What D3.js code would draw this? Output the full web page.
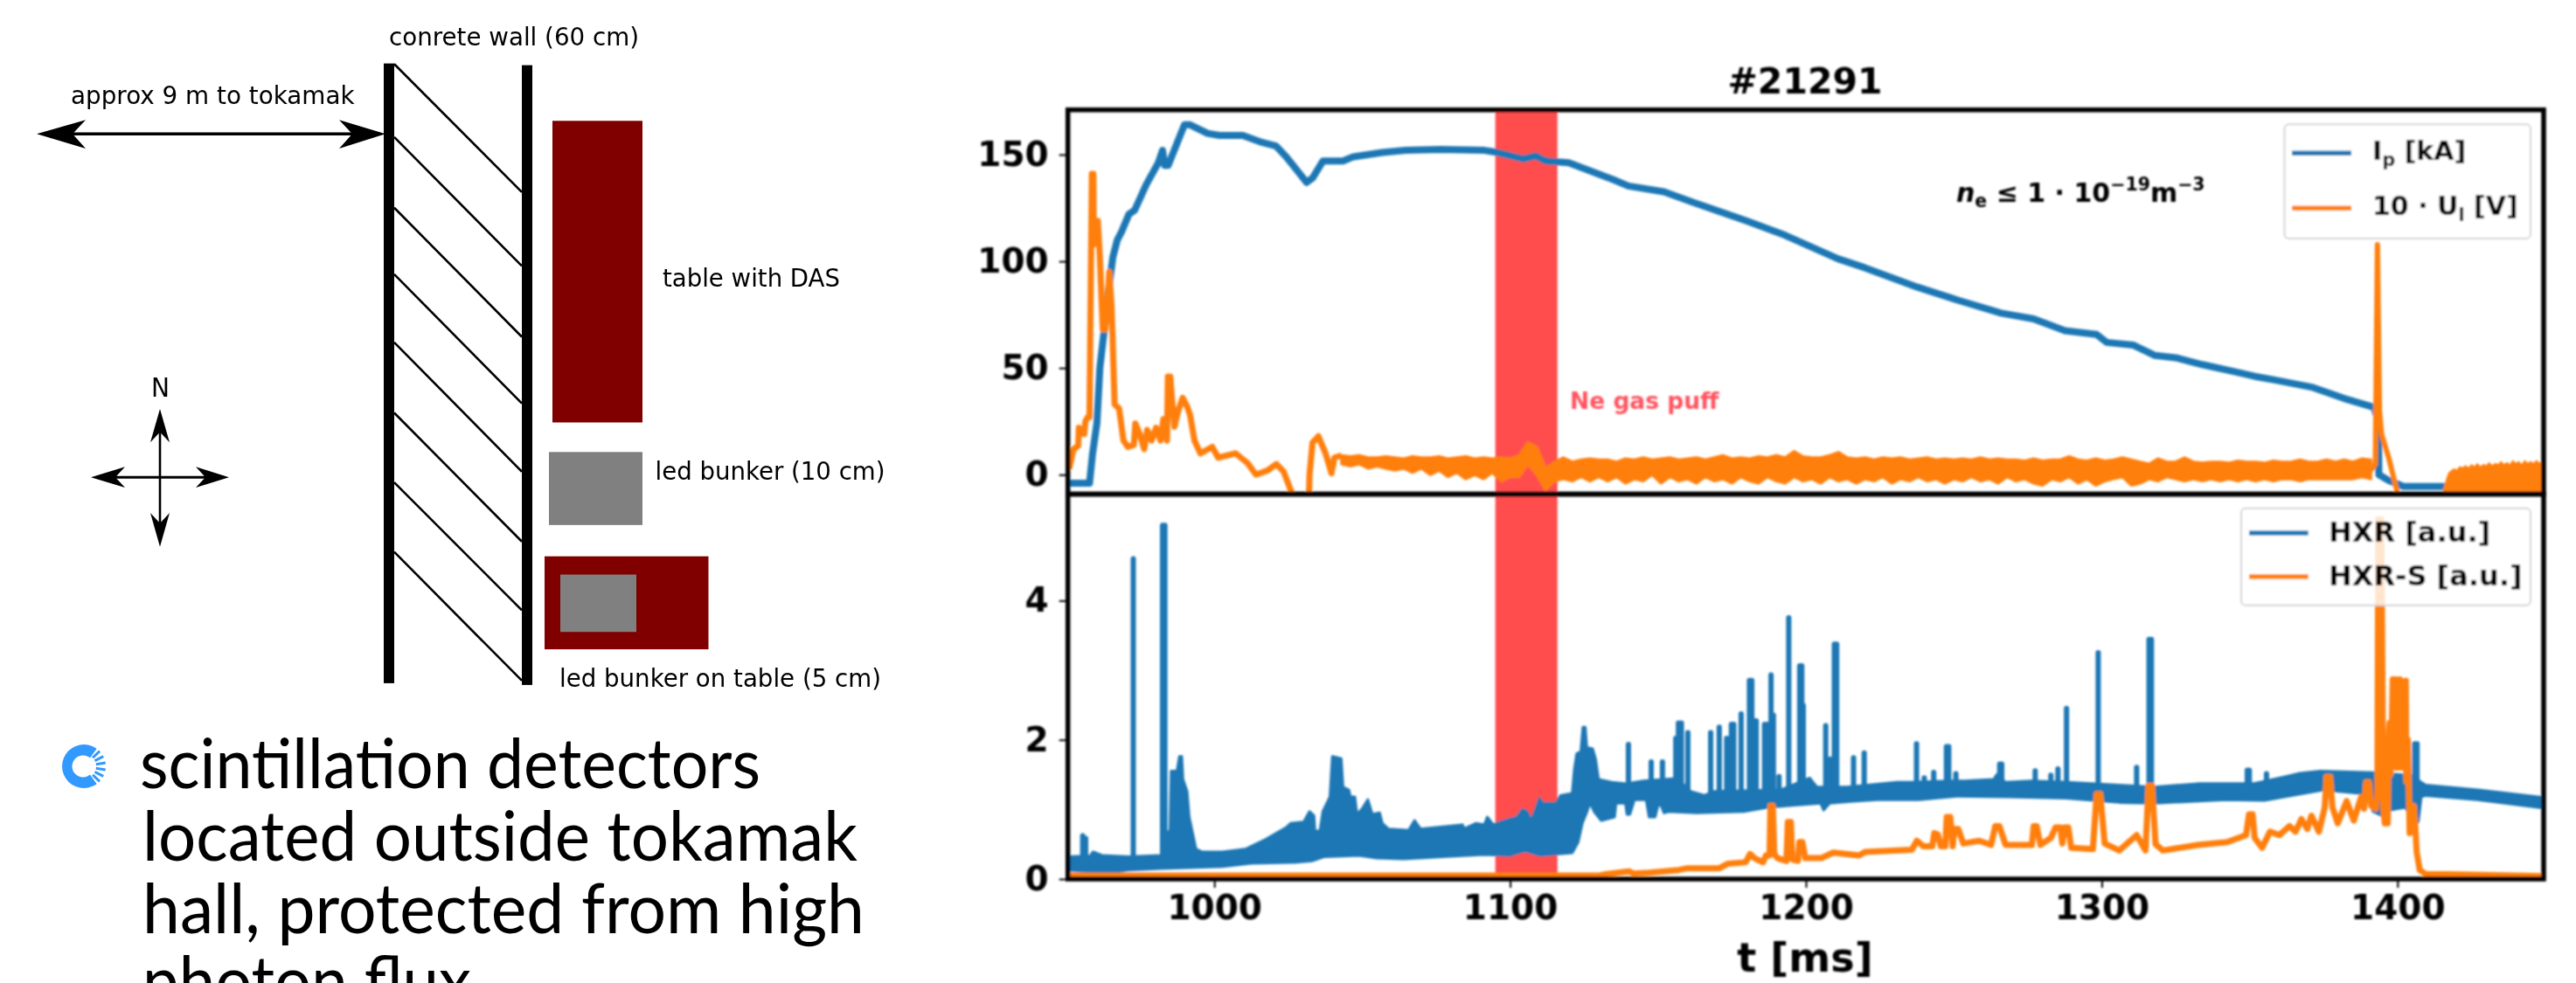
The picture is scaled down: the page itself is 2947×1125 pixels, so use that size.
<!DOCTYPE html>
<html><head><meta charset="utf-8">
<script src="https://cdn.jsdelivr.net/npm/d3@7/dist/d3.min.js"></script>
<style>html,body{margin:0;padding:0;background:#fff;overflow:hidden}svg{display:block}</style>
</head><body><svg id="c" width="2947" height="1125"></svg>
<script>
// ---------- chart data ----------
const chartTitle = "#21291";
const xTicks = [1000,1100,1200,1300,1400];
const topTicks = [0,50,100,150];
const bottomTicks = [0,2,4];
const puffSpan = [1095,1116];

const ipT = [950.9,957.8,958.8,960.3,961.3,962.8,964.2,965.7,967.2,968.7,971.1,973.1,977,981,982.5,983.2,984.4,989.9,991.8,997.7,1001.7,1009.6,1015.5,1020.9,1024.3,1031.2,1033.2,1036.7,1043.5,1047,1056.8,1064.7,1076.6,1091.3,1095,1104.5,1108.7,1112,1119.8,1135,1140,1152,1162,1180.5,1193,1210.8,1219.7,1237.5,1251.8,1266,1277,1287.6,1298.3,1301.7,1310.8,1318,1325,1334,1344.6,1351.7,1358.9,1371.4,1382,1392,1393.5,1393.7,1397,1402,1415,1450];
const ipV = [-4,-4,9.5,24,50,68,86,102,110,114,122,124,136,146,152,145,145,164,164,160,159,159,156,154,149,137,139,147,147,149,151,152,152.5,152,151.2,148,149.4,147,146.2,138.2,135.3,132.6,127.6,118.7,112.2,101.2,97.1,88,81.6,75.7,73,67.5,65.7,62,60.7,55.9,54.8,51.6,48.4,46.1,44.3,40.9,35.7,31.6,25,0,-2.7,-5.5,-5.5,-5.5];

const ulT = [950.9,952.4,954,954.2,956,956.4,957.2,957.8,958.6,959.1,959.3,959.8,960.6,961.3,962.3,963.1,963.8,964.5,965.3,966.3,967.8,969.3,970.8,972.8,973.3,974.8,976.3,977.3,978.8,980.3,981.8,982.8,984,984.3,985.1,985.8,986.5,987.8,989.3,990.8,991.8,993.3,995.3,999.3,1001.3,1007.2,1011.2,1014.1,1018,1021,1023.4,1025.9,1027,1032,1032.2,1033.2,1035.2,1036.7,1037.6,1039.6,1040.6,1043];
const ulV = [2.7,12,13.6,22,19,25,27,27,141,141,108,119,119,102,68,68,78,95,78,33,31,16,13,14,24,19,12,21,16,22,16,26,16,46,46,34,22.5,30,36,32,28,16,10,13,8,10,5.5,0,2,5,1.5,-7.5,-10,-10,0,15,18,13,10,0.7,8,9];
const ulBandHi = [9,8.5,9,8,8,8.5,8,7.5,8.5,8, 8,8.5,7.5,8,8.5,7.5,8,7.5,8,7.5, 9,15,13,3,6,8,6,7,7.5,7, 7,6,7.5,7,8,7,7.5,8,7,7.5,8,7,8,9,7.5,8,7.5,8.5,8,9, 8,11,8.5,8,8,9,10.5,8,7.5,8,7,8,7.5,8,7,7.5,8,7,7.5,7, 7.5,7,8,7,7.5,7,7,6.5,7.5,6.5,7,7,8.5,7,6.5,7.5,6.5,7,8,7, 6,5,7.5,6,6,8,6,5.5,6,6,5.5,6.5,6,6,5.5,6.5,6,6,7,6, 6,7,6,7,6,7.5,7];
const ulBandLo = [5,4,5,3,4,3,2,3,1,3, 0,2,-1,1,-2,0,-2,1,-3,-1, -1,5,0,-7,-3,-2,-3,-1,-3,-1, -3,-1,-4,-2,-3,0,-4,-1,-3,-2,-4,-1,-3,-2,-4,-1,-3,-4,-1,-3, -4,-1,-3,-2,-4,-1,-3,-2,-4,-2,-3,-1,-4,-2,-3,-1,-3,-2,-4,-2, -3,-1,-3,-2,-4,-1,-3,-2,-4,-5,-2,-3,-1,-4,-2,-5,-3,-2,-1,-5, -4,-2,-3,-1,-2,-3,-2,-3,-2,-3,-2,-3,-2,-3,-2,-3,-2,-2,-3,-2, -2,-2,-2,-2,-2,-1,-2];
const ulEndT = [1391,1392.5,1393.2,1393.9,1394.6,1397,1400.6];
const ulEndV = [2,5,107.8,30,19,8,-12];
const ulTailT = [1414.8,1415.6,1416.4,1417.2,1418,1419,1420,1421,1422,1423,1424,1425,1426,1427,1428,1429,1430,1431,1432,1433,1434,1435,1436,1437,1438,1439,1440,1441,1442,1443,1444,1445,1446,1447,1448,1449,1450];
const ulTailHi = [-10,-6,-2,1,2,3,2.5,4,3.5,4.5,3.5,5,4,5.5,4,5,4.5,6,4.5,5.5,5,6.5,5,6,5,7,5.5,6.5,5,7,5.5,6.5,5.5,7,5.5,7,6];

const hxrHiT = [950,958,959,962,971,982,984.4,985,985.4,987.4,988.2,989,989.4,990.8,991.5,992.8,993.8,995.8,1002.7,1010.5,1017.4,1024.3,1025.8,1030.2,1032.2,1033.7,1034,1035.7,1036.7,1039.1,1039.9,1042.9,1043.5,1045.5,1046,1047.5,1048.2,1050,1051.9,1053.4,1055.9,1056.8,1058.8,1065.7,1067.7,1069.7,1083.9,1084.4,1088.4,1091.3,1092.3,1094.3,1098.2,1102.3,1104.2,1105.7,1107.2,1108.7,1109.9,1111.1,1115.6,1117,1121,1121.7,1122.5,1123.9,1124.6,1125.4,1125.9,1127.9,1128.9,1129.9,1134.3,1139.2,1145.1,1155,1158.9,1160.9,1165.8,1168.8,1191.4,1201.3,1203.7,1214,1230.8,1235.8,1248.8,1253.7,1263.5,1264.5,1267.5,1276.4,1288.2,1317.7,1332.5,1347.3,1351.2,1362,1367,1373.9,1391.6,1397.6,1404.5,1408,1409.5,1427.2,1449.4,1450];
const hxrHi = [0.32,0.33,0.39,0.34,0.32,0.34,0.68,0.68,1.55,1.55,1.76,1.76,1.43,1.26,0.89,0.63,0.43,0.39,0.39,0.43,0.57,0.74,0.80,0.82,0.97,0.91,0.69,0.69,0.97,1.18,1.76,1.73,1.32,1.28,1.18,1.18,0.93,1.01,1.14,0.93,0.95,0.80,0.72,0.70,0.84,0.72,0.78,0.72,0.80,0.78,0.89,0.78,0.84,0.89,1.0,0.97,0.84,1.01,1.16,1.09,1.09,1.2,1.23,1.57,1.8,1.83,2.18,2.18,1.89,1.87,1.72,1.43,1.39,1.37,1.41,1.44,1.35,1.26,1.2,1.26,1.28,1.45,1.32,1.32,1.39,1.39,1.41,1.41,1.43,1.5,1.39,1.41,1.39,1.32,1.37,1.37,1.37,1.47,1.52,1.55,1.53,1.51,1.49,1.39,1.35,1.28,1.17,1.17];
const hxrLoT = [950,957.9,958.3,959.5,960,963,966,971,982,1002.7,1012.5,1027,1033,1037,1049,1055,1064,1077,1091,1100,1105,1110,1121,1123,1124.4,1126,1127,1128.4,1130.8,1135.3,1135.8,1139,1139.5,1140.5,1142,1146,1147,1149,1150,1151,1152,1153.5,1163,1179,1187,1196,1205,1206,1208,1215,1224,1238,1251,1268.5,1288,1306,1317.7,1342,1355,1367,1374.9,1389.7,1391.7,1394.7,1397.6,1402.5,1406.5,1407,1408,1409.5,1427,1449.4,1450];
const hxrLo = [0.13,0.10,0.06,0.06,0.10,0.10,0.09,0.13,0.15,0.18,0.225,0.24,0.26,0.32,0.34,0.30,0.29,0.32,0.35,0.34,0.405,0.34,0.375,0.53,0.80,0.97,1.10,0.97,0.84,0.89,1.09,1.09,0.93,0.93,1.14,1.14,0.89,0.89,1.06,1.06,0.95,0.97,0.95,0.97,1.03,1.06,1.09,0.99,1.09,1.115,1.14,1.14,1.19,1.18,1.16,1.10,1.09,1.14,1.13,1.22,1.28,1.22,0.97,0.91,0.99,1.03,0.82,0.82,1.18,1.2,1.14,1.02,1.02];
const hxrSpikeT = [955.5,956.5,972.6,982.5,983.3,1140,1147.7,1151.5,1156,1156.9,1157.9,1160.1,1167.8,1170.7,1173.2,1174.8,1175.6,1178.1,1180.9,1181.7,1182.5,1183.2,1186,1187,1188.2,1189,1190.9,1194.2,1197.9,1198.6,1199.1,1206.7,1208.2,1209.6,1210.4,1216.1,1219.7,1237.4,1240,1243.2,1247.5,1248.3,1250.7,1265.5,1266.2,1277.5,1282.8,1285.2,1288.1,1298.8,1311.8,1316,1316.8,1349.2,1349.9,1355.7,1405.8,1406.6];
const hxrSpikeV = [0.66,0.62,4.64,5.12,5.12,1.97,1.72,1.72,2.06,2.28,2.28,2.14,2.14,2.22,2.06,2.26,2.26,2.41,2.89,2.89,2.31,2.31,2.26,2.26,2.97,2.39,1.51,3.79,3.10,3.10,2.53,2.24,1.76,3.41,3.41,1.78,1.85,1.98,1.49,1.57,1.94,1.94,1.55,1.69,1.69,1.59,1.53,1.62,2.49,3.29,1.64,3.48,3.48,1.6,1.6,1.55,1.98,1.98];

const hxrsT = [950,1120,1130.3,1132.3,1140.2,1141.7,1147,1157,1160,1170.7,1173.7,1179.6,1181.1,1182.6,1185.5,1186.5,1187.7,1188,1188.8,1189.3,1190.4,1193.4,1193.9,1194.9,1195.4,1197.3,1197.8,1198.8,1199.8,1205.2,1209.2,1218,1220,1235.8,1237.5,1239.7,1242.7,1243.4,1244.6,1245.6,1247.1,1247.6,1248.8,1249.6,1250.2,1251.5,1253.2,1258.6,1262.6,1264,1265.4,1267.5,1276.4,1277,1278,1279.3,1282.8,1284.4,1286,1286.7,1287.4,1288.7,1289.7,1297,1298.3,1299.5,1301,1305.9,1311.8,1314.8,1315.8,1317,1318.2,1320.7,1332.5,1342.4,1348.8,1349.8,1351,1351.7,1354.2,1356.9,1360,1363.5,1365.5,1367.5,1369.5,1370.9,1373.4,1375.4,1376,1377.2,1378,1379.8,1382.8,1385.2,1387.7,1388.7,1389.4,1390.3,1391.1,1392.6,1393.2,1393.5,1394.5,1395.2,1395.7,1396.7,1397,1397.3,1397.6,1398.1,1398.4,1399.4,1399.5,1400,1400.4,1400.8,1401.8,1402.8,1403,1403.5,1404.1,1404.7,1405.5,1406,1406.5,1407.5,1409.5,1417.3,1449.4,1450];
const hxrsV = [0.05,0.05,0.05,0.07,0.11,0.08,0.09,0.13,0.155,0.155,0.22,0.24,0.36,0.30,0.24,0.34,0.34,1.05,1.05,0.36,0.30,0.26,0.82,0.82,0.28,0.26,0.53,0.53,0.30,0.30,0.38,0.34,0.39,0.42,0.55,0.47,0.47,0.66,0.64,0.47,0.47,0.89,0.89,0.47,0.72,0.72,0.51,0.55,0.49,0.76,0.76,0.49,0.49,0.76,0.76,0.49,0.59,0.74,0.74,0.51,0.74,0.74,0.45,0.43,1.22,1.22,0.51,0.41,0.63,0.41,1.34,1.34,0.5,0.41,0.49,0.53,0.63,0.93,0.93,0.59,0.45,0.68,0.63,0.76,0.68,0.86,0.72,0.91,0.68,1.03,1.47,1.47,1.03,0.80,1.12,0.84,1.18,1.01,1.39,1.39,1.05,1.01,1.2,5.17,5.17,1.0,0.80,0.80,2.0,2.24,1.5,2.24,2.87,2.87,1.6,2.0,1.6,2.87,1.6,2.85,1.4,2.0,0.66,1.0,1.05,0.75,0.38,0.13,0.07,0.07,0.04,0.04];

// ---------- schematic labels and text ----------
const diagramLabels = ["conrete wall (60 cm)","approx 9 m to tokamak","table with DAS","led bunker (10 cm)","led bunker on table (5 cm)","N"];
const bulletLines = ["scintillation detectors","located outside tokamak","hall, protected from high","photon flux"];
const legendTopLabels = [["I","p"," [kA]"],["10 · U","l"," [V]"]];
const legendBottomLabels = ["HXR [a.u.]","HXR-S [a.u.]"];

// ---------- layout ----------
const BLUE="#1f77b4", ORANGE="#ff7f0e", FONT="'DejaVu Sans'";
const svg=d3.select("#c");
const defs=svg.append("defs");
defs.append("filter").attr("id","soft").attr("filterUnits","userSpaceOnUse").attr("x",0).attr("y",0).attr("width",2947).attr("height",1125)
  .append("feGaussianBlur").attr("stdDeviation",0.8);
defs.append("filter").attr("id","softer").attr("filterUnits","userSpaceOnUse").attr("x",0).attr("y",0).attr("width",2947).attr("height",1125)
  .append("feGaussianBlur").attr("stdDeviation",0.45);
defs.append("clipPath").attr("id","clipTop").append("rect").attr("x",1221.7).attr("y",125.7).attr("width",1688.3).attr("height",439.8);
defs.append("clipPath").attr("id","clipBot").append("rect").attr("x",1221.7).attr("y",565.5).attr("width",1688.3).attr("height",440.5);

const x=d3.scaleLinear().domain([950.5,1449.4]).range([1221.7,2910]);
const yTop=d3.scaleLinear().domain([-9.1,171]).range([565.5,125.7]);
const yBot=d3.scaleLinear().domain([0,5.53]).range([1006,565.5]);
const zip=(a,b)=>a.map((d,i)=>[d,b[i]]);

const chart=svg.append("g").attr("filter","url(#soft)").attr("font-family",FONT).attr("font-weight","bold");

// --- top panel
const gTop=chart.append("g").attr("clip-path","url(#clipTop)");
gTop.append("rect").attr("x",x(puffSpan[0])).attr("width",x(puffSpan[1])-x(puffSpan[0])).attr("y",yTop.range()[1]).attr("height",yTop.range()[0]-yTop.range()[1]).attr("fill","#ff4d4d");
const lineTop=d3.line().x(d=>x(d[0])).y(d=>yTop(d[1]));
gTop.append("path").attr("d",lineTop(zip(ipT,ipV))).attr("fill","none").attr("stroke",BLUE).attr("stroke-width",8).attr("stroke-linejoin","round");
gTop.append("path").attr("d",lineTop(zip(ulT,ulV))).attr("fill","none").attr("stroke",ORANGE).attr("stroke-width",7).attr("stroke-linejoin","round");
const bandT=d3.range(ulBandHi.length).map(i=>1043+3*i);
const areaTop=d3.area().x(d=>x(d[0])).y0(d=>yTop(d[2])).y1(d=>yTop(d[1]));
gTop.append("path").attr("d",areaTop(bandT.map((t,i)=>[t,ulBandHi[i],ulBandLo[i]]))).attr("fill",ORANGE).attr("stroke",ORANGE).attr("stroke-width",3).attr("stroke-linejoin","round");
gTop.append("path").attr("d",lineTop(zip(ulEndT,ulEndV))).attr("fill","none").attr("stroke",ORANGE).attr("stroke-width",6).attr("stroke-linejoin","round");
gTop.append("path").attr("d",areaTop(ulTailT.map((t,i)=>[t,ulTailHi[i],-12]))).attr("fill",ORANGE);

chart.append("text").attr("x",1796).attr("y",468).attr("font-size",26.5).attr("fill","#ff5560").text("Ne gas puff");

// --- bottom panel
const gBot=chart.append("g").attr("clip-path","url(#clipBot)");
gBot.append("rect").attr("x",x(puffSpan[0])).attr("width",x(puffSpan[1])-x(puffSpan[0])).attr("y",yBot.range()[1]).attr("height",yBot.range()[0]-yBot.range()[1]).attr("fill","#ff4d4d");
const lineBot=d3.line().x(d=>x(d[0])).y(d=>yBot(d[1]));
const envelope=zip(hxrHiT,hxrHi).concat(zip(hxrLoT,hxrLo).reverse());
gBot.append("path").attr("d",lineBot(envelope)+"Z").attr("fill",BLUE).attr("stroke",BLUE).attr("stroke-width",3).attr("stroke-linejoin","round");
gBot.selectAll("line.sp").data(zip(hxrSpikeT,hxrSpikeV)).join("line").attr("class","sp")
  .attr("x1",d=>x(d[0])).attr("x2",d=>x(d[0])).attr("y1",d=>yBot(d[1])+3).attr("y2",d=>yBot(d[0]<1100?0.25:1.25))
  .attr("stroke",BLUE).attr("stroke-width",6).attr("stroke-linecap","round");
gBot.append("path").attr("d",lineBot(zip(hxrsT,hxrsV))).attr("fill","none").attr("stroke",ORANGE).attr("stroke-width",7).attr("stroke-linejoin","round");

// --- axes
function styleAxis(g){
  g.select(".domain").remove();
  g.selectAll(".tick line").attr("stroke","#000").attr("stroke-width",2);
  g.selectAll(".tick text").attr("font-size",39).attr("font-family",FONT).attr("font-weight","bold").attr("fill","#000");
}
chart.append("g").attr("transform","translate(1221.7,0)").call(d3.axisLeft(yTop).tickValues(topTicks).tickFormat(d3.format("d")).tickSize(10).tickPadding(12)).call(styleAxis);
chart.append("g").attr("transform","translate(1221.7,0)").call(d3.axisLeft(yBot).tickValues(bottomTicks).tickFormat(d3.format("d")).tickSize(10).tickPadding(12)).call(styleAxis);
chart.append("g").attr("transform","translate(0,1006)").call(d3.axisBottom(x).tickValues(xTicks).tickFormat(d3.format("d")).tickSize(10).tickPadding(8)).call(styleAxis);
[yTop,yBot].forEach(s=>{
  chart.append("rect").attr("x",1221.7).attr("y",s.range()[1]).attr("width",1688.3).attr("height",s.range()[0]-s.range()[1]).attr("fill","none").attr("stroke","#000").attr("stroke-width",5.5);
});
chart.append("text").attr("x",2065).attr("y",107).attr("text-anchor","middle").attr("font-size",41).text(chartTitle);
chart.append("text").attr("x",2065).attr("y",1112).attr("text-anchor","middle").attr("font-size",46).text("t [ms]");

// --- annotation
const ann=chart.append("text").attr("x",2238).attr("y",231).attr("font-size",30);
ann.append("tspan").attr("font-style","italic").text("n");
ann.append("tspan").attr("font-size",20.5).attr("dy",6).text("e");
ann.append("tspan").attr("dy",-6).text(" ≤ 1 · 10");
ann.append("tspan").attr("font-size",20.5).attr("dy",-13).text("−19");
ann.append("tspan").attr("dy",13).text("m");
ann.append("tspan").attr("font-size",20.5).attr("dy",-13).text("−3");

// --- legends
function legendBox(x0,y0,x1,y1){chart.append("rect").attr("x",x0).attr("y",y0).attr("width",x1-x0).attr("height",y1-y0).attr("rx",5).attr("fill","#fff").attr("fill-opacity",0.8).attr("stroke","#d5d5d5").attr("stroke-width",2);}
function legendKey(x0,x1,y,c){chart.append("line").attr("x1",x0).attr("x2",x1).attr("y1",y).attr("y2",y).attr("stroke",c).attr("stroke-width",5.5);}
legendBox(2613.5,142.3,2895,273);
legendKey(2622,2690,175.3,BLUE); legendKey(2622,2690,238.3,ORANGE);
legendTopLabels.forEach((p,i)=>{
  const t=chart.append("text").attr("x",2714).attr("y",[183,246][i]).attr("font-size",30);
  t.append("tspan").text(p[0]);
  t.append("tspan").attr("font-size",21).attr("dy",7).text(p[1]);
  t.append("tspan").attr("dy",-7).text(p[2]);
});
legendBox(2564,581.7,2895,692.7);
legendKey(2573,2640.7,610,BLUE); legendKey(2573,2640.7,660,ORANGE);
legendBottomLabels.forEach((s,i)=>chart.append("text").attr("x",2664).attr("y",[620,670][i]).attr("font-size",32).text(s));

// ---------- schematic on the left ----------
const sch=svg.append("g").attr("filter","url(#softer)").attr("font-family",FONT);
const schShapes=sch.append("g").attr("transform","scale(1,0.9948)");
const wallRects=[[439,73,12,713],[597,75,12,713]];
const blocks=[[632,139,103,347,"#800000"],[628,520,107,84,"#808080"],[623,640,187.5,107,"#800000"],[641,661,87,66,"#808080"]];
const hatch=[[451,73.6,597,221],[451,157.7,597,306],[451,239,597,387.5],[451,315.5,597,464],[451,394,597,542.6],[451,475,597,623],[451,555,597,702],[451,635,597,783]];
schShapes.selectAll("line.h").data(hatch).join("line").attr("class","h").attr("x1",d=>d[0]).attr("y1",d=>d[1]).attr("x2",d=>d[2]).attr("y2",d=>d[3]).attr("stroke","#000").attr("stroke-width",2.6);
schShapes.selectAll("rect.w").data(wallRects).join("rect").attr("class","w").attr("x",d=>d[0]).attr("y",d=>d[1]).attr("width",d=>d[2]).attr("height",d=>d[3]).attr("fill","#000");
schShapes.selectAll("rect.b").data(blocks).join("rect").attr("class","b").attr("x",d=>d[0]).attr("y",d=>d[1]).attr("width",d=>d[2]).attr("height",d=>d[3]).attr("fill",d=>d[4]);
const arrowHeads=[
 [[42,154],[98,138],[83,154],[98,171]],[[441,154],[388,138],[403,154],[388,171]],
 [[183,470.5],[172,509],[183,497],[194,509]],[[183,629],[172,590],[183,602],[194,590]],
 [[104,549],[143,537],[132,549],[143,561]],[[262,549],[224,537],[235,549],[224,561]]];
const shafts=[[83,154,403,154,3.5],[183,497,183,602,2.6],[132,549,235,549,3]];
schShapes.selectAll("line.s").data(shafts).join("line").attr("class","s").attr("x1",d=>d[0]).attr("y1",d=>d[1]).attr("x2",d=>d[2]).attr("y2",d=>d[3]).attr("stroke","#000").attr("stroke-width",d=>d[4]);
schShapes.selectAll("path.a").data(arrowHeads).join("path").attr("class","a").attr("d",d=>d3.line()(d)+"Z").attr("fill","#000");
const labelPos=[[445,52.6,286],[81,120,324.6],[758,330,203],[749.5,552,263],[640,790,368],[173,456,21]];
diagramLabels.forEach((s,i)=>{
  schShapes.append("text").attr("x",labelPos[i][0]).attr("y",labelPos[i][1]).attr("font-size",s==="N"?31:29).attr("fill","#000")
    .attr("textLength",labelPos[i][2]).attr("lengthAdjust","spacingAndGlyphs").text(s);
});

// bullet icon
const icon=sch.append("g").attr("transform","translate(96,877)");
icon.append("circle").attr("r",25).attr("fill","#3399ff");
icon.append("path").attr("d",d3.arc().innerRadius(0).outerRadius(27).startAngle(Math.PI*0.2).endAngle(Math.PI*0.8)()).attr("fill","#fff");
icon.append("circle").attr("cx",-1).attr("r",12.5).attr("fill","#fff");
[-44,-27,-9,9,27,44].forEach(a=>{
  const r=a*Math.PI/180;
  icon.append("line").attr("x1",14*Math.cos(r)).attr("y1",14*Math.sin(r)).attr("x2",25*Math.cos(r)).attr("y2",25*Math.sin(r)).attr("stroke","#3399ff").attr("stroke-width",3);
});

// bullet text
const bulletPos=[[160,901.7,710],[163,985,818],[163,1068,826],[163,1151,376]];
bulletLines.forEach((s,i)=>{
  sch.append("text").attr("x",bulletPos[i][0]).attr("y",bulletPos[i][1]).attr("font-family","Lato").attr("font-size",80).attr("fill","#000")
    .attr("textLength",bulletPos[i][2]).attr("lengthAdjust","spacingAndGlyphs").text(s);
});
</script></body></html>
